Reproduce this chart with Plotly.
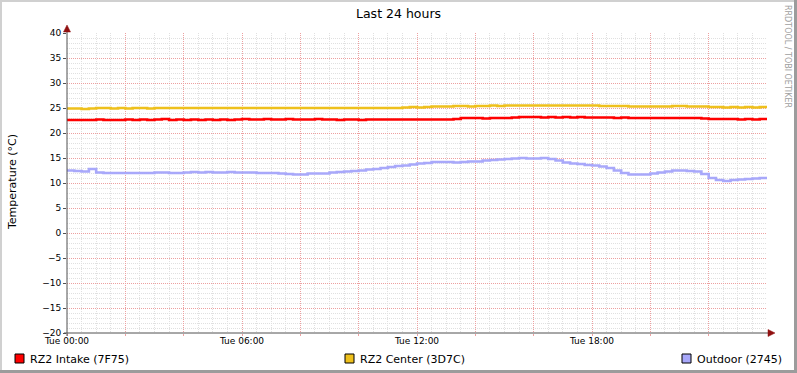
import plotly.graph_objects as go

# ---- data (hours since Tue 00:00, 15-minute samples) ----
hours = [i * 0.25 for i in range(97)]

intake = [22.6, 22.6, 22.6, 22.6, 22.7, 22.6, 22.6, 22.6,
          22.7, 22.6, 22.7, 22.6, 22.7, 22.8, 22.6, 22.7,
          22.6, 22.7, 22.6, 22.7, 22.6, 22.7, 22.6, 22.7,
          22.8, 22.7, 22.7, 22.8, 22.7, 22.7, 22.8, 22.7,
          22.7, 22.7, 22.8, 22.7, 22.7, 22.6, 22.7, 22.7,
          22.6, 22.7, 22.7, 22.7, 22.7, 22.7, 22.7, 22.7,
          22.7, 22.7, 22.7, 22.7, 22.7, 22.8, 23.0, 23.0,
          23.0, 22.9, 23.0, 23.0, 23.0, 23.1, 23.2, 23.2,
          23.2, 23.1, 23.2, 23.1, 23.2, 23.1, 23.2, 23.1,
          23.1, 23.1, 23.1, 23.0, 23.1, 23.0, 23.0, 23.0,
          23.0, 23.0, 23.0, 23.0, 23.0, 23.0, 23.0, 22.9,
          22.8, 22.8, 22.8, 22.8, 22.7, 22.8, 22.7, 22.8,
          22.8]

center = [24.9, 24.9, 24.8, 24.9, 25.0, 25.0, 24.9, 25.0,
          24.9, 25.0, 25.0, 24.9, 25.0, 25.0, 25.0, 25.0,
          25.0, 25.0, 25.0, 25.0, 25.0, 25.0, 25.0, 25.0,
          25.0, 25.0, 25.0, 25.0, 25.0, 25.0, 25.0, 25.0,
          25.0, 25.0, 25.0, 25.0, 25.0, 25.0, 25.0, 25.0,
          25.0, 25.0, 25.0, 25.0, 25.0, 25.0, 25.1, 25.2,
          25.1, 25.2, 25.3, 25.3, 25.3, 25.4, 25.4, 25.3,
          25.4, 25.4, 25.5, 25.4, 25.5, 25.5, 25.5, 25.5,
          25.5, 25.5, 25.5, 25.5, 25.5, 25.5, 25.5, 25.5,
          25.5, 25.4, 25.4, 25.4, 25.4, 25.3, 25.3, 25.3,
          25.3, 25.3, 25.3, 25.4, 25.4, 25.3, 25.3, 25.3,
          25.2, 25.2, 25.1, 25.2, 25.1, 25.2, 25.1, 25.2,
          25.2]

outdoor = [12.5, 12.4, 12.3, 12.8, 12.1, 12.0, 12.0, 12.0,
           12.0, 12.0, 12.0, 12.0, 12.1, 12.1, 12.0, 12.0,
           12.1, 12.2, 12.1, 12.2, 12.1, 12.1, 12.2, 12.1,
           12.1, 12.1, 12.0, 12.0, 12.0, 11.9, 11.8, 11.7,
           11.7, 11.9, 11.9, 11.9, 12.1, 12.2, 12.3, 12.4,
           12.5, 12.7, 12.8, 13.0, 13.2, 13.4, 13.5, 13.7,
           13.9, 14.0, 14.2, 14.2, 14.2, 14.1, 14.2, 14.3,
           14.3, 14.5, 14.6, 14.7, 14.8, 14.9, 15.0, 14.9,
           14.9, 15.0, 14.8, 14.5, 14.1, 13.9, 13.8, 13.6,
           13.5, 13.3, 13.0, 12.5, 12.0, 11.7, 11.7, 11.7,
           11.9, 12.1, 12.3, 12.5, 12.5, 12.4, 12.3, 11.8,
           11.0, 10.6, 10.4, 10.6, 10.7, 10.8, 10.9, 11.0,
           11.0]

series_names = ["RZ2 Intake (7F75)", "RZ2 Center (3D7C)", "Outdoor (2745)"]
series_colors = ["#FF0000", "#EEC01C", "#A8A8FA"]

x_tickvals = [0, 2, 4, 6, 8, 10, 12, 14, 16, 18, 20, 22]
x_ticktext = ["Tue 00:00", "", "", "Tue 06:00", "", "", "Tue 12:00", "", "", "Tue 18:00", "", ""]
y_tickvals = [-20, -15, -10, -5, 0, 5, 10, 15, 20, 25, 30, 35, 40]

# ---- layout geometry (pixels) ----
W, H = 797, 373
L, R, T, B = 67, 767, 33, 333
PW, PH = R - L, B - T


def px(xp):
    return (xp - L) / PW


def py(yp):
    return (B - yp) / PH


FONT = "DejaVu Sans"
fig = go.Figure()

for vals, name, col in zip([intake, center, outdoor], series_names, series_colors):
    fig.add_trace(go.Scatter(x=hours, y=vals, mode="lines", name=name,
                             line=dict(color=col, width=2.6, shape="hv"),
                             connectgaps=False, showlegend=False, hoverinfo="skip"))

minor_grid = dict(showgrid=True, gridcolor="#E0E0E0", griddash="1px,1px", gridwidth=1)
MAJOR = "#EDA0A0"

fig.update_layout(
    width=W, height=H,
    margin=dict(l=L, r=W - R, t=T, b=H - B, pad=0),
    paper_bgcolor="white", plot_bgcolor="white",
    font=dict(family=FONT, size=9, color="black"),
    xaxis=dict(range=[0, 24], tickvals=x_tickvals, ticktext=x_ticktext,
               showgrid=True, gridcolor=MAJOR, griddash="1px,1px", gridwidth=1,
               ticks="outside", ticklen=2, tickcolor=MAJOR, ticklabelstandoff=-3,
               zeroline=False, showline=False,
               minor=dict(dtick=0.5, tick0=0, **minor_grid),
               tickfont=dict(family=FONT, size=9)),
    yaxis=dict(range=[-20, 40], tickvals=y_tickvals,
               showgrid=True, gridcolor=MAJOR, griddash="1px,1px", gridwidth=1,
               ticks="outside", ticklen=3, tickcolor="#505050",
               zeroline=False, showline=False,
               minor=dict(dtick=1, tick0=0, **minor_grid),
               tickfont=dict(family=FONT, size=9)),
)

shapes = []
# outer shaded border
shapes.append(dict(type="line", xref="paper", yref="paper", x0=px(0), x1=px(W), y0=py(1), y1=py(1),
                   line=dict(color="#D0D0D0", width=2)))
shapes.append(dict(type="line", xref="paper", yref="paper", x0=px(1), x1=px(1), y0=py(0), y1=py(H),
                   line=dict(color="#D0D0D0", width=2)))
shapes.append(dict(type="line", xref="paper", yref="paper", x0=px(0), x1=px(W), y0=py(H - 1.5), y1=py(H - 1.5),
                   line=dict(color="#9C9C9C", width=3)))
shapes.append(dict(type="line", xref="paper", yref="paper", x0=px(W - 1.5), x1=px(W - 1.5), y0=py(0), y1=py(H),
                   line=dict(color="#9C9C9C", width=3)))
# axes
shapes.append(dict(type="line", xref="paper", yref="paper", x0=px(64), x1=px(770), y0=py(B), y1=py(B),
                   line=dict(color="#505050", width=1)))
shapes.append(dict(type="line", xref="paper", yref="paper", x0=px(L), x1=px(L), y0=py(336), y1=py(30),
                   line=dict(color="#505050", width=1)))
# arrow heads
shapes.append(dict(type="path", xref="paper", yref="paper",
                   path=f"M {px(L)} {py(25)} L {px(L-3.5)} {py(32)} L {px(L+3.5)} {py(32)} Z",
                   fillcolor="#901010", line=dict(color="#901010", width=0.5)))
shapes.append(dict(type="path", xref="paper", yref="paper",
                   path=f"M {px(775)} {py(B)} L {px(768)} {py(B-3.5)} L {px(768)} {py(B+3.5)} Z",
                   fillcolor="#901010", line=dict(color="#901010", width=0.5)))

annotations = []
# title
annotations.append(dict(text="Last 24 hours", xref="paper", yref="paper", x=px(W / 2), y=py(13),
                        xanchor="center", yanchor="middle", showarrow=False,
                        font=dict(family=FONT, size=12.5, color="black")))
# y title
annotations.append(dict(text="Temperature (°C)", xref="paper", yref="paper", x=px(12), y=py(182),
                        xanchor="center", yanchor="middle", textangle=-90, showarrow=False,
                        font=dict(family=FONT, size=11, color="black")))
# watermark
annotations.append(dict(text="RRDTOOL / TOBI OETIKER", xref="paper", yref="paper", x=px(788), y=py(56),
                        xanchor="center", yanchor="middle", textangle=90, showarrow=False,
                        font=dict(family=FONT, size=8, color="#A0A0A0")))

# legend
legend_sq_x = [15, 345, 682]
for sx, name, col in zip(legend_sq_x, series_names, series_colors):
    shapes.append(dict(type="rect", xref="paper", yref="paper",
                       x0=px(sx), x1=px(sx + 9), y0=py(363), y1=py(354),
                       fillcolor=col, line=dict(color="black", width=1)))
    annotations.append(dict(text=name, xref="paper", yref="paper", x=px(sx + 13), y=py(359),
                            xanchor="left", yanchor="middle", showarrow=False,
                            font=dict(family=FONT, size=11, color="black")))

fig.update_layout(shapes=shapes, annotations=annotations)
fig.write_html("out.html", config={"displayModeBar": False},
               post_script="document.body.style.margin='0px';")
